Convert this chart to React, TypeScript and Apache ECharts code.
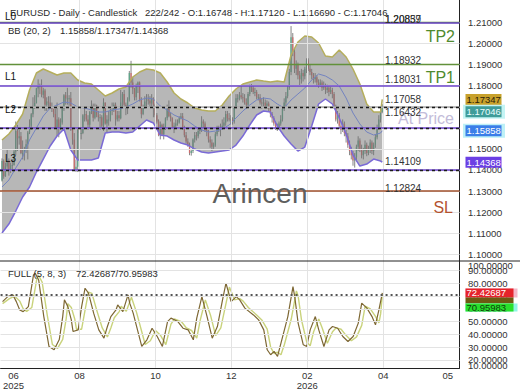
import React, { useEffect, useRef } from 'react';
import * as echarts from 'echarts';

const FONT = '"Liberation Sans", Arial, Helvetica, sans-serif';

// ---------- price data: one entry per daily bar (index = bar number) ----------
const open = [
  1.1350,1.1442,1.1370,1.1416,1.1446,1.1397,1.1420,1.1423,1.1487,1.1585,
  1.1550,1.1560,1.1480,1.1480,1.1495,1.1522,1.1578,1.1610,1.1664,1.1700,
  1.1718,1.1787,1.1800,1.1800,1.1757,1.1777,1.1710,1.1725,1.1720,1.1700,
  1.1690,1.1665,1.1600,1.1640,1.1595,1.1625,1.1690,1.1755,1.1740,1.1740,
  1.1740,1.1590,1.1545,1.1405,1.1415,1.1590,1.1575,1.1575,1.1660,1.1665,
  1.1640,1.1615,1.1675,1.1705,1.1648,1.1705,1.1660,1.1650,1.1650,1.1610,
  1.1720,1.1620,1.1640,1.1640,1.1680,1.1685,1.1710,1.1640,1.1660,1.1645,
  1.1720,1.1760,1.1710,1.1695,1.1735,1.1860,1.1815,1.1785,1.1745,1.1800,
  1.1815,1.1735,1.1665,1.1700,1.1725,1.1735,1.1730,1.1715,1.1740,1.1710,
  1.1660,1.1630,1.1565,1.1615,1.1570,1.1605,1.1645,1.1690,1.1655,1.1645,
  1.1605,1.1610,1.1620,1.1625,1.1645,1.1655,1.1600,1.1565,1.1535,1.1520,
  1.1480,1.1490,1.1545,1.1565,1.1560,1.1585,1.1590,1.1630,1.1620,1.1590,
  1.1580,1.1545,1.1530,1.1510,1.1520,1.1570,1.1595,1.1595,1.1600,1.1610,
  1.1625,1.1665,1.1645,1.1640,1.1640,1.1630,1.1695,1.1740,1.1740,1.1755,
  1.1745,1.1740,1.1720,1.1710,1.1760,1.1795,1.1790,1.1770,1.1770,1.1745,
  1.1745,1.1720,1.1715,1.1720,1.1705,1.1715,1.1690,1.1665,1.1645,1.1620,
  1.1605,1.1600,1.1620,1.1640,1.1690,1.1720,1.1750,1.1790,1.1865,1.2030,
  1.1960,1.1880,1.1900,1.1850,1.1830,1.1860,1.1845,1.1880,1.1920,1.1880,
  1.1865,1.1850,1.1830,1.1840,1.1815,1.1800,1.1815,1.1790,1.1800,1.1780,
  1.1790,1.1770,1.1780,1.1760,1.1700,1.1640,1.1660,1.1610,1.1590,1.1620,
  1.1575,1.1560,1.1520,1.1490,1.1470,1.1445,1.1460,1.1510,1.1540,1.1500,
  1.1470,1.1490,1.1520,1.1480,1.1500,1.1530,1.1490,1.1520,1.1555,1.1600,
  1.1640,1.16748,
];
const close = [
  1.1442,1.1370,1.1416,1.1446,1.1397,1.1420,1.1423,1.1487,1.1585,1.1550,
  1.1560,1.1480,1.1480,1.1495,1.1522,1.1578,1.1610,1.1664,1.1700,1.1718,
  1.1787,1.1800,1.1800,1.1757,1.1777,1.1710,1.1725,1.1720,1.1700,1.1690,
  1.1665,1.1600,1.1640,1.1595,1.1625,1.1690,1.1755,1.1740,1.1740,1.1740,
  1.1590,1.1545,1.1405,1.1415,1.1590,1.1575,1.1575,1.1660,1.1665,1.1640,
  1.1615,1.1675,1.1705,1.1648,1.1705,1.1660,1.1650,1.1650,1.1610,1.1720,
  1.1620,1.1640,1.1640,1.1680,1.1685,1.1710,1.1640,1.1660,1.1645,1.1720,
  1.1760,1.1710,1.1695,1.1735,1.1860,1.1815,1.1785,1.1745,1.1800,1.1815,
  1.1735,1.1665,1.1700,1.1725,1.1735,1.1730,1.1715,1.1740,1.1710,1.1660,
  1.1630,1.1565,1.1615,1.1570,1.1605,1.1645,1.1690,1.1655,1.1645,1.1605,
  1.1610,1.1620,1.1625,1.1645,1.1655,1.1600,1.1565,1.1535,1.1520,1.1480,
  1.1490,1.1545,1.1565,1.1560,1.1585,1.1590,1.1630,1.1620,1.1590,1.1580,
  1.1545,1.1530,1.1510,1.1520,1.1570,1.1595,1.1595,1.1600,1.1610,1.1625,
  1.1665,1.1645,1.1640,1.1640,1.1630,1.1695,1.1740,1.1740,1.1755,1.1745,
  1.1740,1.1720,1.1710,1.1760,1.1795,1.1790,1.1770,1.1770,1.1745,1.1745,
  1.1720,1.1715,1.1720,1.1705,1.1715,1.1690,1.1665,1.1645,1.1620,1.1605,
  1.1600,1.1620,1.1640,1.1690,1.1720,1.1750,1.1790,1.1865,1.2030,1.1960,
  1.1880,1.1900,1.1850,1.1830,1.1860,1.1845,1.1880,1.1920,1.1880,1.1865,
  1.1850,1.1830,1.1840,1.1815,1.1800,1.1815,1.1790,1.1800,1.1780,1.1790,
  1.1770,1.1780,1.1760,1.1700,1.1640,1.1660,1.1610,1.1590,1.1620,1.1575,
  1.1560,1.1520,1.1490,1.1470,1.1445,1.1460,1.1510,1.1540,1.1500,1.1470,
  1.1490,1.1520,1.1480,1.1500,1.1530,1.1490,1.1520,1.1555,1.1600,1.1640,
  1.1675,1.17046,
];
const high = [
  1.1455,1.1450,1.1435,1.1495,1.1455,1.1435,1.1451,1.1497,1.1630,1.1614,
  1.1590,1.1580,1.1540,1.1510,1.1545,1.1585,1.1640,1.1670,1.1745,1.1755,
  1.1790,1.1830,1.1810,1.1830,1.1790,1.1785,1.1745,1.1750,1.1750,1.1720,
  1.1690,1.1690,1.1720,1.1650,1.1645,1.1700,1.1760,1.1770,1.1790,1.1755,
  1.1770,1.1600,1.1575,1.1450,1.1600,1.1600,1.1600,1.1665,1.1700,1.1680,
  1.1660,1.1680,1.1730,1.1715,1.1715,1.1710,1.1680,1.1665,1.1660,1.1740,
  1.1720,1.1660,1.1680,1.1690,1.1720,1.1720,1.1720,1.1680,1.1680,1.1780,
  1.1770,1.1780,1.1720,1.1745,1.1870,1.1918,1.1840,1.1790,1.1810,1.1820,
  1.1820,1.1745,1.1710,1.1750,1.1760,1.1760,1.1750,1.1760,1.1745,1.1715,
  1.1670,1.1640,1.1630,1.1620,1.1620,1.1650,1.1710,1.1730,1.1670,1.1650,
  1.1625,1.1640,1.1640,1.1655,1.1670,1.1670,1.1610,1.1580,1.1550,1.1530,
  1.1500,1.1550,1.1580,1.1580,1.1600,1.1600,1.1655,1.1640,1.1630,1.1600,
  1.1590,1.1560,1.1545,1.1530,1.1580,1.1610,1.1610,1.1620,1.1640,1.1650,
  1.1680,1.1680,1.1670,1.1660,1.1650,1.1700,1.1760,1.1760,1.1770,1.1800,
  1.1765,1.1760,1.1740,1.1770,1.1805,1.1808,1.1800,1.1790,1.1780,1.1760,
  1.1760,1.1740,1.1745,1.1735,1.1730,1.1725,1.1700,1.1675,1.1655,1.1630,
  1.1620,1.1630,1.1660,1.1700,1.1740,1.1770,1.1800,1.1880,1.2083,1.2050,
  1.1975,1.1920,1.1910,1.1870,1.1880,1.1875,1.1890,1.1930,1.1930,1.1900,
  1.1880,1.1860,1.1860,1.1850,1.1830,1.1830,1.1825,1.1820,1.1810,1.1805,
  1.1800,1.1795,1.1790,1.1770,1.1710,1.1680,1.1670,1.1630,1.1640,1.1630,
  1.1590,1.1575,1.1540,1.1510,1.1490,1.1480,1.1520,1.1560,1.1550,1.1520,
  1.1505,1.1540,1.1530,1.1515,1.1545,1.1540,1.1530,1.1570,1.1615,1.1660,
  1.1690,1.17120,
];
const low = [
  1.1345,1.1358,1.1367,1.1405,1.1373,1.1385,1.1402,1.1420,1.1470,1.1490,
  1.1520,1.1475,1.1450,1.1445,1.1480,1.1450,1.1570,1.1590,1.1650,1.1690,
  1.1715,1.1745,1.1760,1.1745,1.1740,1.1680,1.1680,1.1690,1.1690,1.1675,
  1.1650,1.1595,1.1560,1.1555,1.1590,1.1615,1.1680,1.1710,1.1710,1.1705,
  1.1585,1.1520,1.1400,1.1390,1.1390,1.1550,1.1545,1.1570,1.1630,1.1630,
  1.1590,1.1600,1.1665,1.1630,1.1640,1.1650,1.1630,1.1590,1.1600,1.1585,
  1.1615,1.1575,1.1610,1.1630,1.1660,1.1675,1.1610,1.1630,1.1630,1.1640,
  1.1700,1.1700,1.1660,1.1665,1.1725,1.1790,1.1760,1.1730,1.1730,1.1765,
  1.1725,1.1645,1.1660,1.1690,1.1700,1.1710,1.1700,1.1700,1.1650,1.1650,
  1.1620,1.1560,1.1545,1.1560,1.1545,1.1590,1.1635,1.1650,1.1630,1.1600,
  1.1575,1.1600,1.1610,1.1620,1.1640,1.1590,1.1555,1.1525,1.1510,1.1470,
  1.1468,1.1480,1.1530,1.1540,1.1550,1.1570,1.1580,1.1600,1.1580,1.1560,
  1.1530,1.1505,1.1490,1.1500,1.1510,1.1560,1.1580,1.1560,1.1590,1.1600,
  1.1610,1.1630,1.1630,1.1615,1.1615,1.1620,1.1690,1.1720,1.1730,1.1735,
  1.1720,1.1710,1.1690,1.1700,1.1750,1.1770,1.1760,1.1750,1.1735,1.1730,
  1.1710,1.1690,1.1700,1.1690,1.1690,1.1680,1.1650,1.1625,1.1610,1.1590,
  1.1585,1.1590,1.1610,1.1630,1.1680,1.1700,1.1740,1.1780,1.1850,1.1940,
  1.1860,1.1850,1.1830,1.1800,1.1810,1.1820,1.1830,1.1860,1.1870,1.1850,
  1.1830,1.1810,1.1815,1.1800,1.1790,1.1795,1.1775,1.1780,1.1760,1.1765,
  1.1750,1.1760,1.1740,1.1690,1.1630,1.1620,1.1595,1.1570,1.1580,1.1560,
  1.1530,1.1505,1.1470,1.1450,1.1420,1.1411,1.1440,1.1490,1.1485,1.1455,
  1.1450,1.1475,1.1465,1.1470,1.1480,1.1475,1.1470,1.1505,1.1545,1.1590,
  1.1625,1.16690,
];
const barsTotal = 242;

// ---------- Bollinger bands (20, 2), read at these bars ----------
const bbBars = [0,4,8,12,16,20,24,28,32,36,40,44,48,52,56,60,64,68,72,76,80,84,88,92,96,100,104,108,112,116,120,124,128,132,136,140,144,148,152,156,160,164,168,172,176,180,184,188,192,196,200,204,208,212,216,220,221];
const bbUpper = [1.15421,1.15705,1.16133,1.16655,1.17795,1.18602,1.18792,1.18650,1.18507,1.18602,1.18602,1.18270,1.18127,1.18080,1.17795,1.17510,1.17652,1.17842,1.17937,1.18412,1.18650,1.18792,1.18745,1.18602,1.18175,1.17652,1.17368,1.17178,1.16940,1.16845,1.16798,1.16798,1.17083,1.17510,1.17842,1.18080,1.18175,1.18270,1.18222,1.18175,1.18222,1.18175,1.19457,1.20074,1.20359,1.20311,1.20027,1.19409,1.19362,1.19694,1.19362,1.18792,1.18080,1.17130,1.16750,1.16750,1.17347];
const bbMiddle = [1.13189,1.13521,1.14091,1.14613,1.15421,1.15990,1.16560,1.16940,1.17083,1.17225,1.17178,1.16988,1.16940,1.16845,1.16750,1.16750,1.16845,1.16893,1.16988,1.17130,1.17320,1.17415,1.17368,1.17035,1.16845,1.16608,1.16465,1.16323,1.16085,1.15895,1.15800,1.15848,1.15943,1.16133,1.16465,1.16798,1.17083,1.17320,1.17415,1.17368,1.17130,1.16940,1.17320,1.17605,1.17890,1.18270,1.18555,1.18460,1.18270,1.17985,1.17415,1.16703,1.16180,1.15800,1.15658,1.15753,1.15858];
const bbLower = [1.11005,1.11432,1.12049,1.12714,1.13189,1.13901,1.14518,1.15136,1.15610,1.15943,1.14946,1.14471,1.14471,1.14471,1.14566,1.15753,1.15800,1.15800,1.15753,1.15800,1.16085,1.16370,1.16228,1.15658,1.15610,1.15421,1.15278,1.15183,1.14993,1.14851,1.14803,1.14851,1.14898,1.14946,1.15183,1.15610,1.16133,1.16608,1.16798,1.16750,1.16085,1.15610,1.15231,1.14898,1.15088,1.16085,1.17130,1.17368,1.17130,1.16465,1.15705,1.14708,1.14186,1.14281,1.14518,1.14424,1.14368];

// ---------- Full stochastic (5, 8, 3) ----------
const stochKBars = [0,3,6,8,10,12,15,18,19,21,24,27,30,33,35,36,38,40,41,44,46,48,50,53,56,59,61,63,66,67,70,73,74,76,79,81,84,87,90,93,96,98,102,105,108,111,113,116,119,122,125,128,130,133,136,138,141,146,149,152,154,156,158,160,162,166,169,170,172,175,177,179,182,184,187,190,192,195,198,201,204,207,209,212,215,217,219,221];
const stochK = [65.6,69.5,70.9,65.6,59.1,57.8,61.7,86.5,87.8,82.6,53.9,30.5,27.9,35.9,53.9,67,61.7,51.3,42.2,43.5,61.7,76.1,72.2,56.6,43.5,37,46.1,53.9,59.1,63,57.8,70.9,64.4,56.6,40.9,30.5,35.7,44.8,38.3,30.5,50,52.7,50,44.8,43.5,35.7,52.7,69.5,53.9,37,46.1,67,80,65.6,69.5,67,60.5,55.2,51.3,43.5,27.9,24,26.6,22.7,33.1,53.9,77.3,69.5,48.8,31.8,30.5,43.5,53.9,43.5,30.5,43.5,46.1,44.8,38.3,34.4,38.3,48.8,64.4,60.5,53.9,47.4,59.1,72.42687];
const stochDBars = [0,4,7,10,12,14,17,20,21,23,26,29,32,35,37,38,40,42,43,46,48,50,52,55,58,61,63,65,68,69,72,75,76,78,81,83,86,89,92,95,98,100,104,107,110,113,115,118,121,124,127,130,132,135,138,140,143,148,151,154,156,158,160,162,164,168,171,172,174,177,179,181,184,186,189,192,194,197,200,203,206,209,211,214,217,219,220,221];
const stochD = [64,68,70,66,60,58,61,84,86,81,55,32,29,36,52,64,61,52,44,44,59,73,72,58,45,38,45,53,58,62,58,69,65,57,42,32,35,43,39,32,48,52,50,45,43,37,51,67,55,39,45,64,77,67,68,66,61,55,51,44,30,25,26,24,32,52,74,70,51,34,31,42,52,45,33,42,45,44,39,35,38,47,62,60,54,49,56,70.95983];

// ---------- axes ----------
const priceTicks = [1.10,1.11,1.12,1.13,1.14,1.15,1.16,1.17,1.18,1.19,1.20,1.21];
const stochTicks = [20,30,40,50,60,70,80,90];
const stochEdgeTicks = [100, 10];
const monthLabels = ['06\n2025','08','10','12','02\n2026','04','05'];
const monthBars = [6.4,44.8,89,133.1,177.3,221.5,259.1];
const gridMonthBars = [44.8,89,133.1,177.3,221.5];

// ---------- levels ----------
const levelNames = ['TP2','L0','TP1','L1','At Price','L2','L3','SL'];
const levelValues = [1.20859,1.20837,1.18932,1.18031,1.17058,1.16432,1.14109,1.12824];

const X_MIN = -1.16, X_MAX = 265.9;
const Y_MIN = 1.09677, Y_MAX = 1.22068;
const S_MIN = 13.83, S_MAX = 97.42;

const last = <T,>(a: T[]) => a[a.length - 1];
const f5 = (v: number) => v.toFixed(5);

function levelColor(name: string) {
  if (name.startsWith('TP')) return '#62913a';
  if (/^L\d/.test(name)) return '#6c45cc';
  if (name === 'SL') return '#a0502c';
  return '#a9a9a9';
}

function buildOption(): any {
  const candleData = close.map((c, i) => [i, open[i], c, low[i], high[i]]);
  const axisLabelBase = { fontSize: 9.5, color: '#333', fontFamily: FONT };
  const monthMap = new Map<number, string>(monthBars.map((b, i) => [b, monthLabels[i]]));
  const gridLine = { color: '#e3e3e3', width: 1, type: 'solid' };
  const dummy = (xi: number, yi: number, z: number, mlData: any[], style: any) => ({
    type: 'line', xAxisIndex: xi, yAxisIndex: yi, z, silent: true,
    data: [], showSymbol: false,
    markLine: { silent: true, symbol: ['none', 'none'], label: { show: false }, lineStyle: style, data: mlData, animation: false },
  });
  return {
    animation: false,
    backgroundColor: '#ffffff',
    textStyle: { fontFamily: FONT },
    grid: [
      { left: 0, right: 60.5, top: 0, height: 261 },
      { left: 0, right: 60.5, top: 261, height: 107 },
    ],
    xAxis: [
      { type: 'value', gridIndex: 0, min: X_MIN, max: X_MAX, show: false },
      {
        type: 'value', gridIndex: 1, min: X_MIN, max: X_MAX,
        axisLine: { show: true, onZero: false, lineStyle: { color: '#222', width: 1 } },
        axisTick: { show: false }, splitLine: { show: false },
        axisLabel: { ...axisLabelBase, customValues: monthBars, margin: 3, lineHeight: 9.5, formatter: (v: number) => monthMap.get(v) ?? '' },
      },
    ],
    yAxis: [
      {
        type: 'value', gridIndex: 0, position: 'right', min: Y_MIN, max: Y_MAX,
        axisLine: { show: true, onZero: false, lineStyle: { color: '#222', width: 1 } },
        axisTick: { show: false }, splitLine: { show: false },
        axisLabel: { ...axisLabelBase, customValues: priceTicks, margin: 8.5, formatter: (v: number) => f5(v) },
      },
      {
        type: 'value', gridIndex: 1, position: 'right', min: S_MIN, max: S_MAX,
        axisLine: { show: true, onZero: false, lineStyle: { color: '#222', width: 1 } },
        axisTick: { show: false }, splitLine: { show: false },
        axisLabel: { ...axisLabelBase, customValues: stochTicks, margin: 8.5, formatter: (v: number) => f5(v) },
      },
    ],
    series: [
      dummy(0, 0, 0, [...priceTicks.map((v) => ({ yAxis: v })), ...gridMonthBars.map((b) => ({ xAxis: b }))], gridLine),
      dummy(1, 1, 0, [...stochTicks.map((v) => ({ yAxis: v })), ...gridMonthBars.map((b) => ({ xAxis: b }))], gridLine),
      {
        type: 'custom', xAxisIndex: 0, yAxisIndex: 0, z: 1, silent: true,
        data: candleData, encode: { x: 0, y: [1, 2, 3, 4] },
        renderItem: (_p: any, api: any) => {
          const x = api.value(0);
          const o = api.value(1), c = api.value(2), l = api.value(3), h = api.value(4);
          const pH = api.coord([x, h]), pL = api.coord([x, l]);
          const pO = api.coord([x, o]), pC = api.coord([x, c]);
          const top = Math.min(pO[1], pC[1]);
          const ht = Math.max(1, Math.abs(pO[1] - pC[1]));
          return {
            type: 'group',
            children: [
              { type: 'line', shape: { x1: pH[0], y1: pH[1], x2: pL[0], y2: pL[1] }, style: { stroke: '#858585', lineWidth: 1 } },
              { type: 'rect', shape: { x: pO[0] - 0.65, y: top, width: 1.3, height: ht }, style: { fill: c >= o ? '#5fa68a' : '#cc6c6c' } },
            ],
          };
        },
      },
      {
        type: 'custom', xAxisIndex: 0, yAxisIndex: 0, z: 2, silent: true,
        data: [[bbBars[0], bbUpper[0]]], encode: { x: 0, y: 1 },
        renderItem: (_p: any, api: any) => {
          const pts: number[][] = [];
          bbBars.forEach((b, k) => pts.push(api.coord([b, bbUpper[k]])));
          for (let k = bbBars.length - 1; k >= 0; k--) pts.push(api.coord([bbBars[k], bbLower[k]]));
          return { type: 'polygon', shape: { points: pts }, style: { fill: 'rgba(112,112,112,0.5)' } };
        },
      },
      {
        type: 'line', xAxisIndex: 0, yAxisIndex: 0, z: 3, silent: true, showSymbol: false,
        data: bbBars.map((b, k) => [b, bbMiddle[k]]), lineStyle: { color: '#7383c0', width: 1 },
      },
      {
        type: 'line', xAxisIndex: 0, yAxisIndex: 0, z: 3, silent: true, showSymbol: false,
        data: bbBars.map((b, k) => [b, bbUpper[k]]), lineStyle: { color: '#b5ae5c', width: 1.5 },
      },
      {
        type: 'line', xAxisIndex: 0, yAxisIndex: 0, z: 3, silent: true, showSymbol: false,
        data: bbBars.map((b, k) => [b, bbLower[k]]), lineStyle: { color: '#7a6ad6', width: 1.5 },
      },
      dummy(0, 0, 4, [
        ...levelValues.map((v, i) => ({ yAxis: v, lineStyle: { color: levelColor(levelNames[i]), width: levelNames[i].startsWith('TP') ? 1.3 : 1.5, type: 'solid' } })),
        ...[last(bbUpper), last(bbMiddle), last(bbLower)].map((v) => ({ yAxis: v, lineStyle: { color: '#1a1a1a', width: 1.4, type: [3, 3] } })),
      ], { width: 1 }),
      {
        type: 'line', xAxisIndex: 1, yAxisIndex: 1, z: 3, silent: true, showSymbol: false,
        data: stochDBars.map((b, k) => [b, stochD[k]]), lineStyle: { color: '#c9d37c', width: 1.4 },
      },
      {
        type: 'line', xAxisIndex: 1, yAxisIndex: 1, z: 3, silent: true, showSymbol: false,
        data: stochKBars.map((b, k) => [b, stochK[k]]), lineStyle: { color: '#7d6733', width: 1.2 },
      },
      dummy(1, 1, 4, [{ yAxis: last(stochD) }], { color: '#555', width: 2.2, type: [2, 3] }),
    ],
  };
}

function buildGraphic(chart: any): any[] {
  const py = (v: number) => chart.convertToPixel({ yAxisIndex: 0 }, v) as number;
  const sy = (v: number) => chart.convertToPixel({ yAxisIndex: 1 }, v) as number;
  const els: any[] = [];
  const text = (t: string, x: number, y: number, size: number, fill: string, align = 'left') =>
    els.push({
      type: 'text', x, y, z: 100, silent: true,
      style: { text: t, font: `${size}px ${FONT}`, fill, textAlign: align, textVerticalAlign: 'middle', align, verticalAlign: 'middle' },
    });
  const rect = (x: number, y: number, w: number, h: number, fill: string) =>
    els.push({ type: 'rect', z: 99, silent: true, shape: { x, y, width: w, height: h }, style: { fill } });

  els.push({ type: 'line', z: 100, silent: true, shape: { x1: 0, y1: 261, x2: 520, y2: 261 }, style: { stroke: '#222', lineWidth: 1 } });

  const n = close.length;
  text('EURUSD - Daily - Candlestick', 10, 12.7, 9.5, '#2a2a2a');
  text(`${n}/${barsTotal} - O:${f5(open[n - 1])} - H:${f5(high[n - 1])} - L:${f5(low[n - 1])} - C:${f5(close[n - 1])}`, 145, 12.7, 9.5, '#2a2a2a');
  text('BB (20, 2)', 8, 30, 9.5, '#2a2a2a');
  text(`${f5(last(bbMiddle))}/${f5(last(bbUpper))}/${f5(last(bbLower))}`, 60, 30, 9.5, '#2a2a2a');
  text('FULL (5, 8, 3)', 8, 273, 9.5, '#2a2a2a');
  text(`${f5(last(stochK))}/${f5(last(stochD))}`, 76, 273, 9.5, '#2a2a2a');

  levelValues.forEach((v, i) => {
    const name = levelNames[i];
    const y = py(v);
    text(f5(v), 385, y - 6, 10, '#333');
    if (/^L\d/.test(name)) text(name, 5, y - 9, 10, '#111');
    else if (name.startsWith('TP')) text(name, 455, y + 11.5, 16, '#4f8a2e', 'right');
    else if (name === 'SL') text(name, 453, y + 13, 16, '#b4532f', 'right');
    else text(name, 454, y + 13, 16, '#c3bcd9', 'right');
  });

  // price badges on the right axis
  const badges = [
    { v: last(bbUpper), bg: '#c8a12c', fg: '#2b2208', halo: '' },
    { v: close[n - 1], bg: '#3f9c99', fg: '#eaffff', halo: '#c4f4f4' },
    { v: last(bbMiddle), bg: '#3a7ee8', fg: '#ffffff', halo: '#bdf0f6' },
    { v: last(bbLower), bg: '#6b3fe4', fg: '#ffffff', halo: '' },
  ].map((b) => ({ ...b, y: py(b.v) })).sort((a, b) => a.y - b.y);
  let prev = -100;
  badges.forEach((b) => {
    const y = Math.max(b.y, prev + 12.4);
    prev = y;
    if (b.halo) rect(463, y - 7, 42, 14, b.halo);
    rect(465.5, y - 5.5, 36, 11, b.bg);
    text(f5(b.v), 466.5, y, 9.5, b.fg);
  });

  // stochastic badges
  const yK = sy(last(stochK));
  const yD = Math.max(sy(last(stochD)), yK + 14.5);
  rect(465.5, yK - 4.5, 52, 9, '#f4b7c8');
  rect(465.5, yK - 4.5, 48, 9, '#e5232b');
  rect(465.5, yK + 4.5, 48, yD - yK - 8.5, '#6d5a12');
  rect(465.5, yD - 4, 52, 8, '#8ff5e6');
  rect(465.5, yD - 4, 48, 8, '#28e02b');
  text(f5(last(stochK)), 466.5, yK, 9.5, '#ffffff');
  text(f5(last(stochD)), 466.5, yD, 9.5, '#0d3d0d');

  // axis labels of the stochastic panel that sit past its edges
  text(f5(stochEdgeTicks[0]), 468, 265, 9.5, '#333');
  text(f5(stochEdgeTicks[1]), 468, 365, 9.5, '#333');

  text('Arincen', 260, 193, 28, '#5e5e5e', 'center');
  return els;
}

export default function App() {
  const ref = useRef<HTMLDivElement>(null);
  useEffect(() => {
    if (!ref.current) return;
    const chart = echarts.init(ref.current, null, { renderer: 'svg' });
    chart.setOption(buildOption());
    chart.setOption({ graphic: { elements: buildGraphic(chart) } });
    return () => chart.dispose();
  }, []);
  return (
    <div
      ref={ref}
      style={{ position: 'absolute', left: 0, top: 0, width: 520, height: 390, background: '#ffffff' }}
    />
  );
}
